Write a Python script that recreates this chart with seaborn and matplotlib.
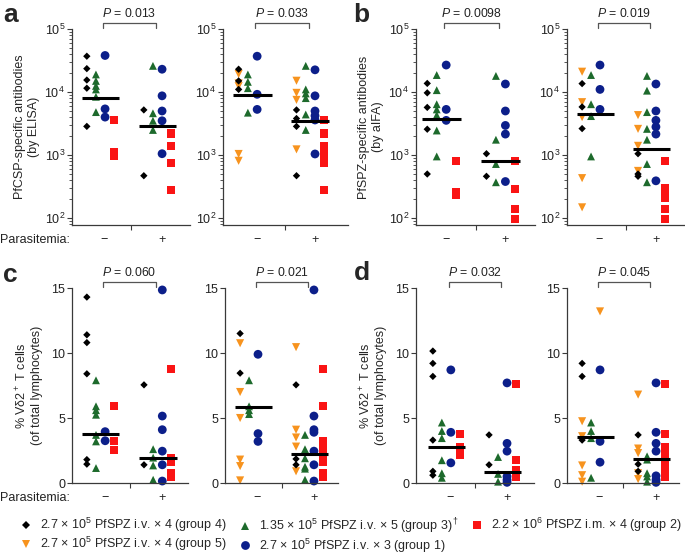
import numpy as np
import pandas as pd
import matplotlib
matplotlib.use("Agg")
import matplotlib.pyplot as plt
import matplotlib.transforms as mtransforms
from matplotlib.lines import Line2D
from matplotlib.ticker import LogLocator, NullFormatter
import seaborn as sns

# ---- values ----
# key = vaccine group, value = (parasitemia -, parasitemia +)
a1 = {"g4": ([37000, 23500, 15500, 11500, 2850], [5200, 470]),
      "g3": ([19000, 15000, 12500, 11000, 8400, 4800], [26000, 4600, 3500, 2500]),
      "g1": ([38000, 5400, 4000], [23000, 8700, 5000, 3500, 1050]),
      "g2": ([3600, 1100, 950], [2200, 1400, 760, 280])}
a2 = {"g5": ([19300, 13700, 12400, 1040, 810], [15100, 9700, 7500, 1230]),
      "g4": ([23000, 15000, 11000], [5200, 3800, 2850, 470]),
      "g3": ([19000, 14500, 11500, 4700], [26000, 11000, 9500, 8000, 4400, 2500]),
      "g1": ([37000, 9200, 5300], [22500, 8700, 5000, 4200, 3600, 1040]),
      "g2": ([], [3600, 2200, 1400, 1100, 900, 760, 280])}
b1 = {"g4": ([13700, 9700, 5700, 2570, 500], [1050, 460]),
      "g3": ([18600, 10700, 6400, 5300, 4300, 2450, 950], [18000, 1750, 720, 370]),
      "g1": ([26800, 5300, 3550], [13400, 5000, 2950, 2150, 380]),
      "g2": ([800, 260, 230], [800, 285, 140, 97])}
b2 = {"g5": ([21000, 6900, 4000, 430, 148], [4300, 2600, 1400, 560]),
      "g4": ([13600, 5800, 2630], [1050, 500, 460]),
      "g3": ([18600, 6400, 4150, 950], [18000, 10500, 4800, 2600, 1750, 720, 370]),
      "g1": ([26800, 11000, 5300], [13400, 5000, 3550, 2800, 2150, 390]),
      "g2": ([], [800, 300, 250, 210, 140, 97])}
c1 = {"g4": ([14.3, 11.4, 10.8, 8.4, 1.8, 1.45], [7.55, 1.4]),
      "g3": ([7.9, 5.9, 5.6, 5.25, 3.7, 3.2, 1.15], [2.6, 1.95, 1.35, 0.25]),
      "g1": ([3.95, 3.25], [14.85, 5.15, 4.1, 2.45, 1.4, 0.15]),
      "g2": ([5.9, 3.2, 2.55], [8.75, 1.95, 1.6, 0.75, 0.45])}
c2 = {"g5": ([10.75, 7.0, 5.0, 1.8, 1.3, 0.2], [10.45, 4.1, 3.5, 2.8, 0.9]),
      "g4": ([11.5, 8.45], [7.55, 1.85, 1.4]),
      "g3": ([7.9, 5.9, 5.6, 5.3], [3.7, 2.6, 1.9, 1.25, 1.1, 0.25]),
      "g1": ([9.9, 3.8, 3.2], [14.85, 5.15, 4.1, 3.9, 2.45, 1.4, 0.15]),
      "g2": ([], [8.75, 5.9, 3.2, 2.6, 2.0, 1.6, 0.75, 0.45])}
d1 = {"g4": ([10.15, 9.2, 8.2, 3.3, 0.9, 0.6], [3.7, 1.4]),
      "g3": ([4.65, 4.0, 3.45, 1.75, 0.75, 0.4], [2.0, 0.7, 0.1]),
      "g1": ([8.7, 3.9, 1.55], [7.7, 3.05, 2.45, 0.5, 0.25, 0.05]),
      "g2": ([3.8, 2.75, 2.15], [7.6, 1.8, 1.0, 0.5])}
d2 = {"g5": ([4.75, 3.6, 1.35, 0.6, 0.1], [6.8, 2.65, 2.3, 0.75, 0.3]),
      "g5x": ([13.2], []),   # orange point sitting in the circle column
      "g4": ([9.2, 8.2, 3.3], [3.7, 1.45, 0.9]),
      "g3": ([4.65, 4.0, 3.45, 0.4], [2.05, 1.8, 0.75, 0.5, 0.1]),
      "g1": ([8.7, 3.2, 1.6], [7.7, 3.9, 3.05, 2.45, 0.55, 0.25, 0.05]),
      "g2": ([], [7.65, 3.8, 2.75, 2.15, 1.8, 1.25, 0.9, 0.5])}

medians = {"a1": [8100, 2900], "a2": [8950, 3450], "b1": [3770, 800], "b2": [4450, 1250],
           "c1": [3.8, 1.9], "c2": [5.85, 2.25], "d1": [2.75, 0.85], "d2": [3.55, 1.85]}
pvals = {"a1": "0.013", "a2": "0.033", "b1": "0.0098", "b2": "0.019",
         "c1": "0.060", "c2": "0.021", "d1": "0.032", "d2": "0.045"}
status_labels = ["\u2212", "+"]

legend_labels = {
    "g4": r"2.7 × 10$^5$ PfSPZ i.v. × 4 (group 4)",
    "g5": r"2.7 × 10$^5$ PfSPZ i.v. × 4 (group 5)",
    "g3": r"1.35 × 10$^5$ PfSPZ i.v. × 5 (group 3)$^\dagger$",
    "g1": r"2.7 × 10$^5$ PfSPZ i.v. × 3 (group 1)",
    "g2": r"2.2 × 10$^6$ PfSPZ i.m. × 4 (group 2)",
}

# ---- styling ----
colors = {"g5": "#f7931e", "g5x": "#f7931e", "g4": "black", "g3": "#1d6a2c",
          "g1": "#0c1f8a", "g2": "#fa1414"}
markers = {"g5": "v", "g5x": "v", "g4": "D", "g3": "^", "g1": "o", "g2": "s"}
sizes = {"g5": 34, "g5x": 34, "g4": 14, "g3": 32, "g1": 40, "g2": 34}
offsets = {"g5": -0.24, "g5x": 0.08, "g4": -0.24, "g3": -0.08, "g1": 0.08, "g2": 0.24}
order = ["g5", "g5x", "g4", "g3", "g1", "g2"]

W, H = 685, 556
# panel: (left px, right px, top px, bottom px, xlim)
layout = {"a1": (72, 190, 29, 225, (-0.5, 1.57)),
          "a2": (223, 348, 29, 225, (-0.51, 1.65)),
          "b1": (416, 535, 29, 225, (-0.43, 1.58)),
          "b2": (567, 685, 29, 225, (-0.51, 1.6)),
          "c1": (72, 188, 288, 483, (-0.5, 1.53)),
          "c2": (225, 338, 288, 483, (-0.51, 1.51)),
          "d1": (416, 534, 288, 483, (-0.54, 1.56)),
          "d2": (567, 679, 288, 483, (-0.51, 1.49))}
panels = {"a1": a1, "a2": a2, "b1": b1, "b2": b2, "c1": c1, "c2": c2, "d1": d1, "d2": d2}


def to_long(d):
    rows = []
    for g in order:
        if g not in d:
            continue
        for s, vals in enumerate(d[g]):
            for v in vals:
                rows.append({"group": g, "x": s + offsets[g], "value": v})
    return pd.DataFrame(rows)


sns.set_style("ticks")
plt.rcParams["font.family"] = ["Liberation Sans", "DejaVu Sans"]
plt.rcParams["mathtext.fontset"] = "custom"
plt.rcParams["mathtext.rm"] = "Liberation Sans"
plt.rcParams["mathtext.it"] = "Liberation Sans:italic"
plt.rcParams["mathtext.bf"] = "Liberation Sans:bold"
plt.rcParams["font.size"] = 8

fig = plt.figure(figsize=(W / 100, H / 100), dpi=100)
spine_col = "#3a3a3a"

for key, (l, r, t, b, xl) in layout.items():
    ax = fig.add_axes([l / W, 1 - b / H, (r - l) / W, (b - t) / H])
    df = to_long(panels[key])
    log = key[0] in "ab"
    if log:
        ax.set_yscale("log")
    sns.scatterplot(data=df, x="x", y="value", hue="group", style="group", size="group",
                    palette=colors, markers=markers, sizes=sizes, linewidth=0,
                    legend=False, ax=ax, clip_on=False, zorder=2)
    for s, m in enumerate(medians[key]):
        ax.hlines(m, s - 0.33, s + 0.33, color="black", lw=2.2, zorder=3)
    ax.set_xlim(xl)
    if log:
        ax.set_ylim(10 ** 1.89, 1e5)
        ax.set_yticks([1e2, 1e3, 1e4, 1e5])
        ax.yaxis.set_minor_locator(LogLocator(base=10, subs=np.arange(2, 10)))
        ax.yaxis.set_minor_formatter(NullFormatter())
    else:
        ax.set_ylim(0, 15)
        ax.set_yticks([0, 5, 10, 15])
    ax.set_xticks([(xl[0] + xl[1]) / 2])
    ax.set_xticklabels([])
    ax.set_xlabel("")
    ax.set_ylabel("")
    sns.despine(ax=ax)
    for sp in ["left", "bottom"]:
        ax.spines[sp].set_color(spine_col)
        ax.spines[sp].set_linewidth(0.9)
    ax.tick_params(which="major", length=3.5, width=0.8, color=spine_col,
                   labelsize=9, labelcolor="#222222", pad=1.5)
    ax.tick_params(which="minor", length=2, width=0.6, color=spine_col)

    tr = mtransforms.blended_transform_factory(ax.transData, ax.transAxes)
    for s, lab in enumerate(status_labels):
        ax.text(s + 0.07 + 0.01 * s, -0.077, lab, transform=tr, ha="center", va="center",
                fontsize=9, color="#222222")
    # significance bracket
    x0, x1 = 0.04, 0.97
    ax.plot([x0, x0, x1, x1], [1.005, 1.03, 1.03, 1.005], transform=tr,
            color="#555555", lw=0.9, clip_on=False)
    ax.text((x0 + x1) / 2, 1.045, r"$P$ = " + pvals[key], transform=tr,
            ha="center", va="bottom", fontsize=8.8, color="#222222")

    if key in ("a1", "c1"):
        ax.text(-0.02, -0.077, "Parasitemia:", transform=ax.transAxes, ha="right",
                va="center", fontsize=9, color="#222222")
    if key == "a1":
        ax.set_ylabel("PfCSP-specific antibodies\n(by ELISA)", fontsize=9, labelpad=3)
    elif key == "b1":
        ax.set_ylabel("PfSPZ-specific antibodies\n(by aIFA)", fontsize=9, labelpad=3)
    elif key in ("c1", "d1"):
        ax.set_ylabel("% V\u03b42$^+$ T cells\n(of total lymphocytes)", fontsize=9, labelpad=6)

# panel letters
for lab, x, y in [("a", 3, 22), ("b", 353, 22), ("c", 3, 282), ("d", 354, 280)]:
    fig.text(x / W, 1 - y / H, lab, fontsize=19, fontweight="bold", va="baseline", ha="left")


def handle(g):
    return Line2D([], [], linestyle="none", marker=markers[g], color=colors[g],
                  markersize=np.sqrt(sizes[g]), markeredgewidth=0)


legend_cols = [(20, ["g4", "g5"]), (239, ["g3", "g1"]), (471, ["g2"])]
for x, gs in legend_cols:
    fig.legend([handle(g) for g in gs], [legend_labels[g] for g in gs], loc="upper left",
               bbox_to_anchor=(x / W, 1 - 516 / H), frameon=False, handlelength=1.0,
               handletextpad=0.6, labelspacing=0.08, borderpad=0, borderaxespad=0,
               fontsize=9)

fig.savefig("out.png", dpi=100)
